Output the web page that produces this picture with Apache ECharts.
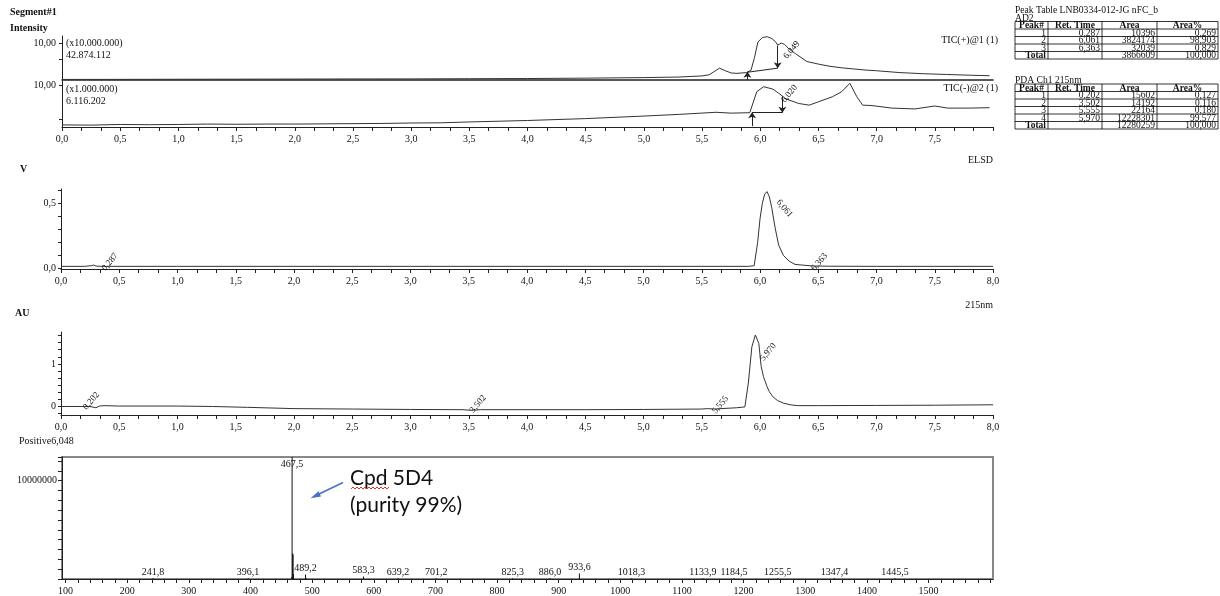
<!DOCTYPE html>
<html><head><meta charset="utf-8">
<script src="https://cdn.jsdelivr.net/npm/echarts/dist/echarts.min.js"></script>
<style>html,body{margin:0;padding:0;background:#fff}#c{width:1220px;height:596px}</style>
</head><body><div id="c"></div>
<script>
// ---------- DATA ----------
// TIC(+)@1 (relative units, axis label 10,00)
const ticPosTime = [0,0.5,1,1.5,2,2.5,3,3.5,4,4.5,5,5.3,5.5,5.56,5.6,5.65,5.7,5.75,5.8,5.88,5.92,5.95,5.98,6.02,6.06,6.1,6.13,6.15,6.18,6.21,6.25,6.3,6.4,6.5,6.6,6.7,6.8,6.9,7.0,7.2,7.4,7.6,7.8,7.97];
const ticPosVal  = [0.15,0.17,0.2,0.22,0.25,0.28,0.3,0.35,0.4,0.5,0.65,0.8,1.1,1.4,2.2,3.2,2.5,1.9,1.8,2.0,2.6,6.0,10.3,11.5,11.7,11.2,10.4,9.4,10.0,9.6,8.3,7.2,5.0,4.3,3.7,3.3,3.0,2.7,2.5,2.0,1.7,1.5,1.3,1.15];
// TIC(-)@2
const ticNegTime = [0,0.25,0.5,0.75,1,1.25,1.5,1.75,2,2.25,2.5,2.75,3,3.25,3.5,4,4.5,5,5.3,5.62,5.75,5.91,5.97,6.03,6.11,6.16,6.22,6.33,6.42,6.5,6.62,6.7,6.77,6.83,6.88,6.96,7.13,7.33,7.5,7.61,7.8,7.97];
const ticNegVal  = [0.5,0.45,0.6,0.55,0.6,0.7,0.65,0.7,0.7,0.75,0.8,0.85,0.95,1.0,1.2,1.55,2.0,2.6,3.0,3.5,3.3,3.4,8.4,9.6,9.0,8.0,6.7,5.6,5.2,6.0,7.2,8.4,10.4,7.2,5.2,5.1,4.5,4.3,5.0,4.5,4.5,4.6];
// ELSD (V)
const elsdTime = [0,0.2,0.26,0.28,0.3,0.35,1,2,3,4,5,5.9,5.95,5.98,6.0,6.02,6.04,6.06,6.08,6.1,6.13,6.16,6.2,6.25,6.3,6.36,6.45,6.6,7,7.5,8];
const elsdVal  = [0.015,0.015,0.02,0.025,0.017,0.015,0.015,0.015,0.015,0.015,0.015,0.015,0.02,0.2,0.38,0.5,0.57,0.59,0.55,0.47,0.31,0.18,0.1,0.055,0.03,0.025,0.018,0.016,0.015,0.015,0.015];
// PDA 215nm (AU)
const auTime = [0,0.2,0.25,0.3,0.33,0.37,0.5,1,1.3,1.6,2,2.5,3,3.45,3.52,3.6,4,4.5,5,5.5,5.55,5.6,5.8,5.87,5.9,5.93,5.96,5.99,6.01,6.03,6.06,6.08,6.11,6.15,6.2,6.26,6.32,6.5,7,7.5,8];
const auVal  = [0,0,0,-0.03,0.01,0.02,0.01,0.01,0,-0.02,-0.05,-0.06,-0.07,-0.075,-0.09,-0.075,-0.075,-0.075,-0.07,-0.06,-0.05,-0.06,-0.03,-0.01,0.55,1.4,1.68,1.48,0.94,0.7,0.47,0.35,0.23,0.14,0.08,0.04,0.02,0.02,0.025,0.03,0.04];
// Mass spectrum Positive 6,048
const msPeakMz  = [241.8,396.1,467.5,489.2,583.3,639.2,701.2,825.3,886.0,933.6,1018.3,1133.9,1184.5,1255.5,1347.4,1445.5];
const msPeakInt = [80000,80000,12400000,450000,250000,80000,80000,80000,80000,550000,80000,80000,80000,80000,80000,80000];
const msIsoMz   = [466.9,468.5,469.0,469.6,490.2];
const msIsoInt  = [200000,2600000,2500000,500000,100000];
// Peak labels
const ticPosPeak = ['6,049'], ticNegPeak = ['6,020'];
const elsdPeaks = ['0,287','6,061','6,363'];
const auPeaks = ['0,202','3,502','5,555','5,970'];
// Peak tables
const tableHeader = ['Peak#','Ret. Time','Area','Area%'];
const ad2Rows = [['1','0,287','10396','0,269'],['2','6,061','3824174','98,903'],['3','6,363','32039','0,829'],['Total','','3866609','100,000']];
const pdaRows = [['1','0,202','15602','0,127'],['2','3,502','14192','0,116'],['3','5,555','22164','0,180'],['4','5,970','12228301','99,577'],['Total','','12280259','100,000']];
// Axis tick labels
const lcLabels = [0,0.5,1,1.5,2,2.5,3,3.5,4,4.5,5,5.5,6,6.5,7,7.5,8];
const msLabels = [100,200,300,400,500,600,700,800,900,1000,1100,1200,1300,1400,1500];

// ---------- BUILD ----------
const F = 'Liberation Serif';
const INK = '#111';
const pairs = (a,b)=>a.map((t,i)=>[t,b[i]]);
const comma = v => v.toFixed(1).replace('.',',');
const lcTicks = []; for (let k=0;k<=48;k++) lcTicks.push(k/6);
const msTicks = []; for (let m=100;m<=1600;m+=20) msTicks.push(m);
const auTicks = []; for (let k=-1;k<=10;k++) auTicks.push(k/6);

const grids = [
  {left:62, top:36, width:931, height:44},
  {left:62, top:81, width:931, height:46},
  {left:61, top:189, width:932, height:80},
  {left:61, top:332, width:932, height:83},
  {left:62, top:457, width:931, height:122, show:true, borderColor:'#888', borderWidth:2}
];
const axLine = {show:true, onZero:false, lineStyle:{color:'#222', width:1}};
const lbl = {fontFamily:F, fontSize:10, color:INK};
const xAxes = [
  {gridIndex:0, type:'value', min:0, max:8, axisLine:{show:true,onZero:false,lineStyle:{color:'#222',width:1.6}}, axisTick:{show:false}, axisLabel:{show:false}, splitLine:{show:false}},
  {gridIndex:1, type:'value', min:0, max:8, axisLine:axLine, axisTick:{customValues:lcTicks, length:4, lineStyle:{color:'#222'}}, axisLabel:Object.assign({customValues:lcLabels.slice(0,16), formatter:comma, margin:7}, lbl), splitLine:{show:false}},
  {gridIndex:2, type:'value', min:0, max:8, axisLine:axLine, axisTick:{customValues:lcTicks, length:4, lineStyle:{color:'#222'}}, axisLabel:Object.assign({customValues:lcLabels, formatter:comma, margin:7}, lbl), splitLine:{show:false}},
  {gridIndex:3, type:'value', min:0, max:8, axisLine:axLine, axisTick:{customValues:lcTicks, length:4, lineStyle:{color:'#222'}}, axisLabel:Object.assign({customValues:lcLabels, formatter:comma, margin:7}, lbl), splitLine:{show:false}},
  {gridIndex:4, type:'value', min:94.2, max:1604.6, axisLine:axLine, axisTick:{customValues:msTicks, length:4, lineStyle:{color:'#222'}}, axisLabel:Object.assign({customValues:msLabels, formatter:v=>String(Math.round(v)), margin:7}, lbl), splitLine:{show:false}}
];
const yAxes = [
  {gridIndex:0, type:'value', min:0, max:11.9, axisLine:axLine, axisTick:{customValues:[5.7,10], length:3, lineStyle:{color:'#222'}}, axisLabel:Object.assign({customValues:[10], formatter:()=>'10,00', margin:6}, lbl), splitLine:{show:false}},
  {gridIndex:1, type:'value', min:0, max:10.95, axisLine:axLine, axisTick:{customValues:[1.9,10], length:3, lineStyle:{color:'#222'}}, axisLabel:Object.assign({customValues:[10], formatter:()=>'10,00', margin:6}, lbl), splitLine:{show:false}},
  {gridIndex:2, type:'value', min:-0.0054, max:0.61, axisLine:axLine, axisTick:{customValues:[0,0.1,0.2,0.3,0.4,0.5,0.6], length:3, lineStyle:{color:'#222'}}, axisLabel:Object.assign({customValues:[0,0.5], formatter:comma, margin:5}, lbl), splitLine:{show:false}},
  {gridIndex:3, type:'value', min:-0.2, max:1.75, axisLine:axLine, axisTick:{customValues:auTicks, length:3, lineStyle:{color:'#222'}}, axisLabel:Object.assign({customValues:[0,1], formatter:v=>String(Math.round(v)), margin:5}, lbl), splitLine:{show:false}},
  {gridIndex:4, type:'value', min:0, max:12400000, interval:1000000, axisLine:axLine, axisTick:{length:4, lineStyle:{color:'#222'}}, axisLabel:Object.assign({formatter:v=>v===10000000?'10000000':'', margin:5}, lbl), splitLine:{show:false}}
];

const curve = {type:'line', symbol:'none', lineStyle:{color:'#333', width:1}, silent:true};
const arrowML = (data)=>({silent:true, symbol:['none','arrow'], symbolSize:6, label:{show:false}, lineStyle:{color:'#222', width:1, type:'solid'}, data:data});
const pkLabel = (items)=>({symbol:'circle', symbolSize:0, silent:true, label:{show:true, position:'inside', fontFamily:F, fontSize:9, color:INK, rotate:50}, data:items});

const series = [
  Object.assign({}, curve, {xAxisIndex:0, yAxisIndex:0, data:pairs(ticPosTime,ticPosVal),
    markLine:arrowML([
      [{coord:[5.89,0], symbol:'none'},{coord:[5.89,2.2], symbol:'arrow'}],
      [{coord:[5.89,2.1], symbol:'none'},{coord:[6.15,3.2], symbol:'none'}],
      [{coord:[6.15,9.3], symbol:'none'},{coord:[6.15,3.2], symbol:'arrow'}]
    ]),
    markPoint:pkLabel([{coord:[6.27,8.1], label:{formatter:ticPosPeak[0]}}])}),
  Object.assign({}, curve, {xAxisIndex:1, yAxisIndex:1, data:pairs(ticNegTime,ticNegVal),
    markLine:arrowML([
      [{coord:[5.93,0.2], symbol:'none'},{coord:[5.93,3.5], symbol:'arrow'}],
      [{coord:[5.93,3.4], symbol:'none'},{coord:[6.19,3.4], symbol:'none'}],
      [{coord:[6.19,7.2], symbol:'none'},{coord:[6.19,3.4], symbol:'arrow'}]
    ]),
    markPoint:pkLabel([{coord:[6.25,7.9], label:{formatter:ticNegPeak[0]}}])}),
  Object.assign({}, curve, {xAxisIndex:2, yAxisIndex:2, data:pairs(elsdTime,elsdVal),
    markPoint:pkLabel([
      {coord:[0.42,0.048], label:{formatter:elsdPeaks[0]}},
      {coord:[6.21,0.46], label:{formatter:elsdPeaks[1], rotate:-50}},
      {coord:[6.51,0.048], label:{formatter:elsdPeaks[2]}}
    ])}),
  Object.assign({}, curve, {xAxisIndex:3, yAxisIndex:3, data:pairs(auTime,auVal),
    markPoint:pkLabel([
      {coord:[0.26,0.13], label:{formatter:auPeaks[0]}},
      {coord:[3.58,0.06], label:{formatter:auPeaks[1]}},
      {coord:[5.66,0.04], label:{formatter:auPeaks[2]}},
      {coord:[6.07,1.28], label:{formatter:auPeaks[3]}}
    ])}),
  {type:'bar', xAxisIndex:4, yAxisIndex:4, barWidth:1, silent:true, itemStyle:{color:'#111'},
    data:msPeakMz.map((m,i)=>{
      const it = {value:[m,msPeakInt[i]]};
      if (m===467.5) it.label = {position:'insideTop', distance:2};
      return it;
    }),
    label:{show:true, position:'top', distance:1, fontFamily:F, fontSize:10, color:INK, formatter:p=>comma(p.value[0])}},
  {type:'bar', xAxisIndex:4, yAxisIndex:4, barWidth:1, barGap:'-100%', silent:true, itemStyle:{color:'#111'},
    data:pairs(msIsoMz,msIsoInt)}
];

// ---------- GRAPHIC (texts, tables, annotation) ----------
const g = [];
const txt = (x,y,s,opt={})=>g.push({type:'text', x:x, y:y, silent:true, style:Object.assign({text:s, font:(opt.bold?'bold ':'')+(opt.size||10)+'px "'+(opt.family||F)+'"', fill:opt.color||INK, textAlign:opt.align||'left', textVerticalAlign:'middle', verticalAlign:'middle'})});
const ln = (x1,y1,x2,y2,c='#000',w=1)=>g.push({type:'line', silent:true, shape:{x1,y1,x2,y2}, style:{stroke:c, lineWidth:w}});

txt(10,12,'Segment#1',{bold:true});
txt(10,28,'Intensity',{bold:true});
txt(66,43,'(x10.000.000)');
txt(66,55,'42.874.112');
txt(66,89,'(x1.000.000)');
txt(66,101,'6.116.202');
txt(998,40,'TIC(+)@1 (1)',{align:'right'});
txt(998,88,'TIC(-)@2 (1)',{align:'right'});
txt(20,169,'V',{bold:true});
txt(993,160,'ELSD',{align:'right'});
txt(15,313,'AU',{bold:true});
txt(993,305,'215nm',{align:'right'});
txt(19,441,'Positive6,048');

// Tables
const colX = [1015,1048,1102,1157,1218];
function table(top, headerH, rowH, rows){
  const nRows = rows.length;
  const bottom = top + headerH + rowH*nRows;
  const hy = [top, top+headerH];
  for (let i=1;i<=nRows;i++) hy.push(top+headerH+rowH*i);
  hy.forEach(y=>ln(colX[0],y,colX[4],y,'#000',0.8));
  colX.forEach(x=>ln(x,top,x,bottom,'#000',0.8));
  tableHeader.forEach((h,ci)=>txt((colX[ci]+colX[ci+1])/2, top+headerH/2+0.5, h, {align:'center', size:9.5, bold:true}));
  rows.forEach((r,ri)=>{
    const cy = top+headerH+rowH*ri+rowH/2+0.5;
    r.forEach((v,ci)=>{ if(v!=='') txt(colX[ci+1]-2, cy, v, {align:'right', size:9.5, bold:v==='Total'}); });
  });
}
txt(1015,10,'Peak Table LNB0334-012-JG nFC_b',{size:9.6});
txt(1015,18,'AD2',{size:9.6});
table(21.5, 7.5, 7.5, ad2Rows);
txt(1015,80,'PDA Ch1 215nm',{size:9.6});
table(84, 7.5, 7.5, pdaRows);

// Annotation
txt(350,478,'Cpd 5D4',{size:21, family:'Lato'});
txt(350,505,'(purity 99%)',{size:21, family:'Lato'});
const wave = []; for (let x=351;x<=389;x+=2) wave.push([x, 488 + ((x-351)/2 % 2 ? -1 : 1)]);
g.push({type:'polyline', silent:true, shape:{points:wave}, style:{stroke:'#e03030', lineWidth:1, fill:null}});
ln(343,482.5,316,495.5,'#4472C4',1.5);
g.push({type:'polygon', silent:true, shape:{points:[[310.5,498.3],[318.5,491.2],[321,496.5]]}, style:{fill:'#4472C4'}});

const chart = echarts.init(document.getElementById('c'), null, {renderer:'canvas'});
chart.setOption({
  animation:false,
  backgroundColor:'#fff',
  grid:grids, xAxis:xAxes, yAxis:yAxes, series:series, graphic:g
});
</script></body></html>
